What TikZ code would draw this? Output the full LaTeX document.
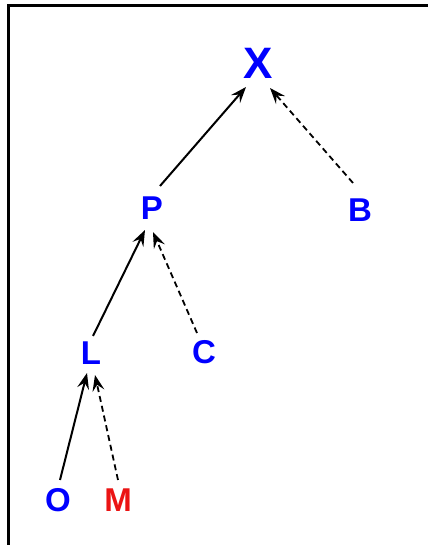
\documentclass[tikz,border=0pt]{standalone}
\usepackage{fontspec}
\setmainfont{Liberation Sans}
\usetikzlibrary{arrows.meta}
\definecolor{nblue}{RGB}{0,0,255}
\definecolor{nred}{RGB}{235,20,20}
\begin{document}
\begin{tikzpicture}[x=1pt,y=1pt,
  lbl/.style={inner sep=0pt,font=\fontsize{33}{36}\selectfont\bfseries,text=nblue},
  big/.style={inner sep=0pt,font=\fontsize{44}{48}\selectfont\bfseries,text=nblue},
  edge/.style={line width=2pt,-{Stealth[length=16pt,width=12pt,inset=6pt]}},
  dedge/.style={edge,line width=1.8pt,dash pattern=on 6pt off 4pt}]
\useasboundingbox (0,0) rectangle (428,545);
\fill[white] (0,0) rectangle (428,545);
\draw[line width=3pt] (8,0) -- (8,539) -- (428,539);
\node[big] (X) at (258,482) {X};
\node[lbl] (P) at (152,337) {P};
\node[lbl] (B) at (360,335) {B};
\node[lbl] (L) at (91,192) {L};
\node[lbl] (C) at (204,193) {C};
\node[lbl] (O) at (58,45) {O};
\node[lbl,text=nred] (M) at (118,45) {M};
\draw[edge] ([shift={(8,22)}]P.center) -- ([shift={(-12,-24)}]X.center);
\draw[dedge] ([shift={(-7,27)}]B.center) -- ([shift={(12,-25)}]X.center);
\draw[edge] ([shift={(2,17)}]L.center) -- ([shift={(-7,-22)}]P.center);
\draw[dedge] ([shift={(-7,19)}]C.center) -- ([shift={(1,-24)}]P.center);
\draw[edge] ([shift={(2,20)}]O.center) -- ([shift={(-4,-20)}]L.center);
\draw[dedge] ([shift={(0,20)}]M.center) -- ([shift={(4,-22)}]L.center);
\end{tikzpicture}
\end{document}
